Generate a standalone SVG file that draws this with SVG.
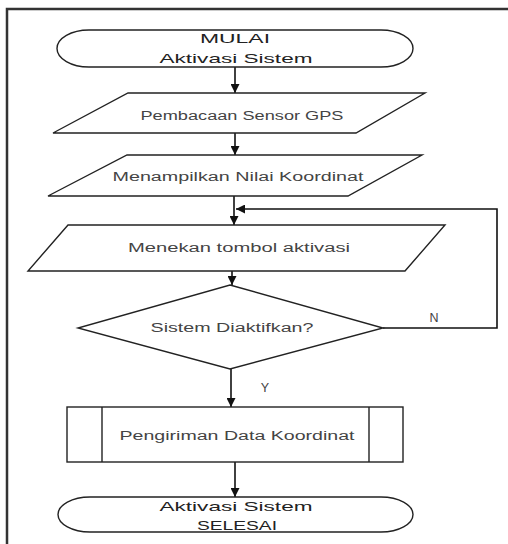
<svg xmlns="http://www.w3.org/2000/svg" width="508" height="544" viewBox="0 0 508 544">
  <defs>
    <marker id="arrow" viewBox="0 0 10 10" refX="10" refY="5" markerWidth="9" markerHeight="9" markerUnits="userSpaceOnUse" orient="auto">
      <path d="M0,0 L10,5 L0,10 z" fill="#111"/>
    </marker>
  </defs>
  <style>
    .shape { fill: #fff; stroke: #222; stroke-width: 1.4; }
    .conn { fill: none; stroke: #111; stroke-width: 1.6; }
    .t { font-family: "Liberation Sans", Arial, sans-serif; font-size: 12.5px; text-anchor: middle; fill: #444; }
    .term { fill: #222; font-size: 13px; }
    .frame { fill: none; stroke: #333; stroke-width: 2.5; }
  </style>

  <rect width="508" height="544" fill="#fff"/>
  <!-- page frame -->
  <path class="frame" d="M7,560 V9 H520"/>

  <g id="connectors">
    <line class="conn" x1="235" y1="67" x2="235" y2="93" marker-end="url(#arrow)"/>
    <line class="conn" x1="235" y1="133" x2="235" y2="155" marker-end="url(#arrow)"/>
    <line class="conn" x1="234" y1="196" x2="234" y2="225" marker-end="url(#arrow)"/>
    <line class="conn" x1="232" y1="271" x2="232" y2="285" marker-end="url(#arrow)"/>
    <polyline class="conn" points="383,328 497,328 497,209 236,209" marker-end="url(#arrow)"/>
    <line class="conn" x1="231" y1="369" x2="231" y2="407" marker-end="url(#arrow)"/>
    <line class="conn" x1="235" y1="462" x2="235" y2="497" marker-end="url(#arrow)"/>
  </g>

  <g id="start">
    <rect class="shape" x="57" y="30" width="356" height="37" rx="32" ry="18.5"/>
    <text class="t term" x="235" y="43" textLength="70" lengthAdjust="spacingAndGlyphs">MULAI</text>
    <text class="t term" x="236" y="63" textLength="153" lengthAdjust="spacingAndGlyphs">Aktivasi Sistem</text>
  </g>

  <g id="read-gps">
    <polygon class="shape" points="128,93 425,93 356,133 53,133"/>
    <text class="t" x="242" y="120" textLength="203" lengthAdjust="spacingAndGlyphs">Pembacaan Sensor GPS</text>
  </g>

  <g id="show-coords">
    <polygon class="shape" points="127,155 422,155 348,196 48,196"/>
    <text class="t" x="238" y="181" textLength="251" lengthAdjust="spacingAndGlyphs">Menampilkan Nilai Koordinat</text>
  </g>

  <g id="press-button">
    <polygon class="shape" points="68,225 445,225 405,271 28,271"/>
    <text class="t" x="239" y="252" textLength="222" lengthAdjust="spacingAndGlyphs">Menekan tombol aktivasi</text>
  </g>

  <g id="decision">
    <polygon class="shape" points="230,285 383,328 230,369 78,328"/>
    <text class="t" x="232" y="332" textLength="163" lengthAdjust="spacingAndGlyphs">Sistem Diaktifkan?</text>
    <text class="t" x="434" y="322" font-size="11">N</text>
    <text class="t" x="265" y="392" font-size="11">Y</text>
  </g>

  <g id="send-data">
    <rect class="shape" x="67" y="407" width="336" height="55"/>
    <line class="shape" x1="102" y1="407" x2="102" y2="462"/>
    <line class="shape" x1="369" y1="407" x2="369" y2="462"/>
    <text class="t" x="237" y="440" textLength="235" lengthAdjust="spacingAndGlyphs">Pengiriman Data Koordinat</text>
  </g>

  <g id="end">
    <rect class="shape" x="58" y="497" width="355" height="35" rx="32" ry="17.5"/>
    <text class="t term" x="236" y="511" textLength="153" lengthAdjust="spacingAndGlyphs">Aktivasi Sistem</text>
    <text class="t term" x="237" y="530" textLength="80" lengthAdjust="spacingAndGlyphs">SELESAI</text>
  </g>
</svg>
